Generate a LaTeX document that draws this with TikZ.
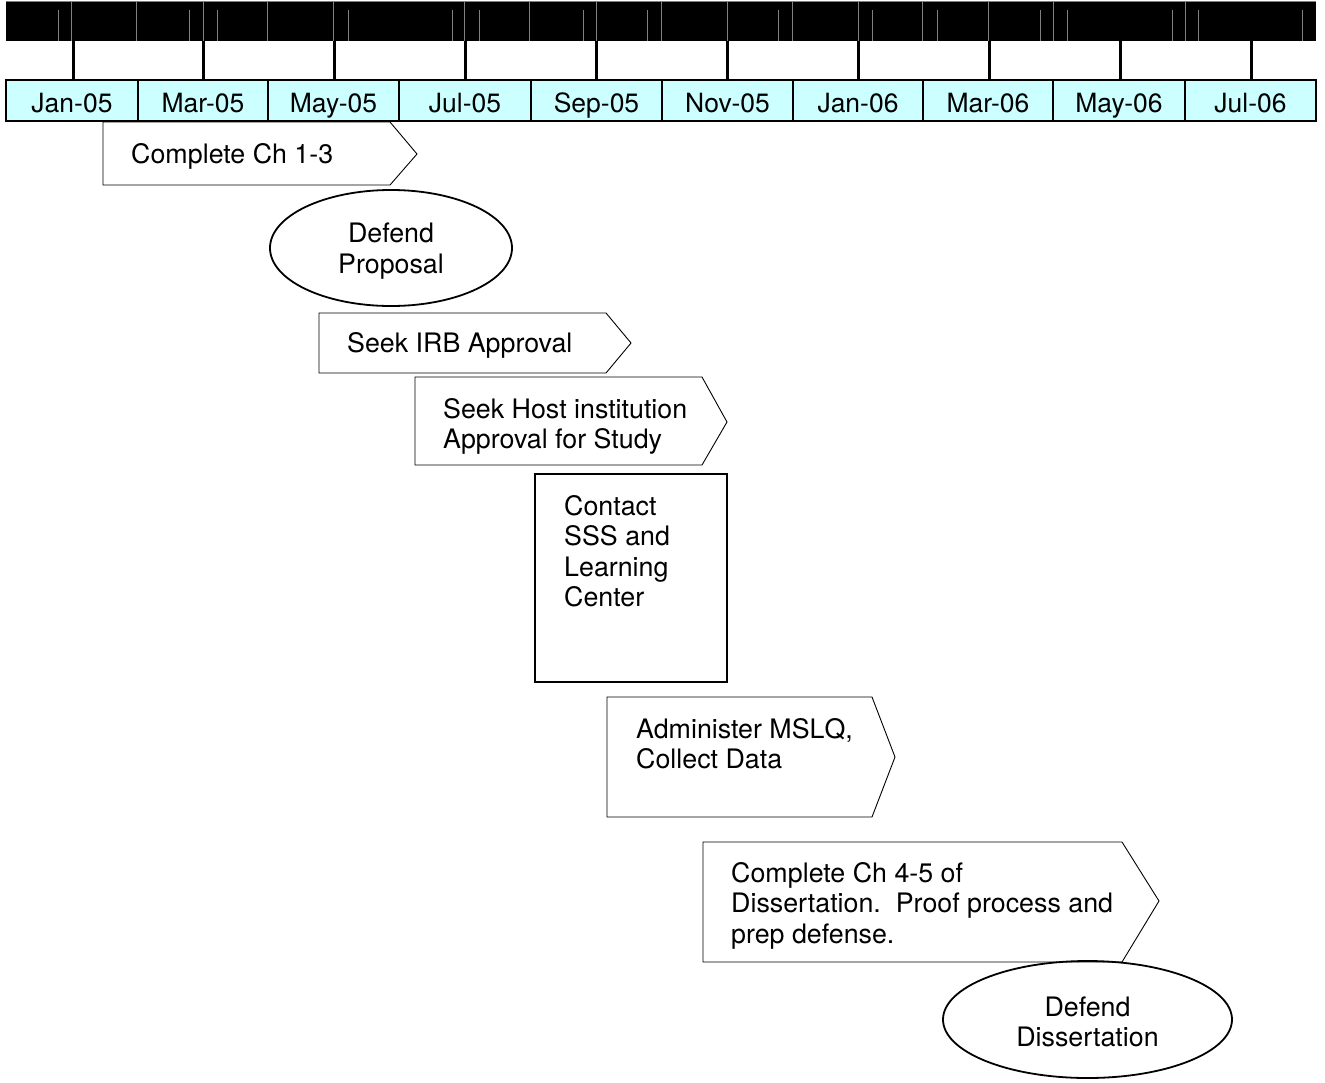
\documentclass[tikz,border=0pt]{standalone}
\usepackage{fontspec}
\setmainfont{TeX Gyre Heros}
\usetikzlibrary{shapes.geometric}
\definecolor{monthfill}{HTML}{CCFFFF}
\tikzset{
  x=1pt, y=-1pt,
  lbl/.style={inner sep=0pt, font=\fontsize{26.8}{30.5}\selectfont, align=left},
  month/.style={inner sep=0pt, font=\fontsize{26.5}{30.5}\selectfont},
  arrowbox/.style={draw=black, line width=0.9pt, fill=white, line join=miter},
  oval/.style={draw=black, line width=1.8pt, ellipse, inner sep=0pt},
  ovaltext/.style={inner sep=0pt, align=center, font=\fontsize{26.8}{30.5}\selectfont},
  tick/.style={line width=3pt, black},
  grid/.style={line width=0.6pt, black!50},
}
\begin{document}
\begin{tikzpicture}
\useasboundingbox (0,0) rectangle (1325,1082);
\fill[white] (0,0) rectangle (1325,1082);
% top black bar
\fill[black] (6,1) rectangle (1316,41);
\draw[grid] (6,1) -- (1316,1);
\foreach \gx in {71,136,203,267,333,464,529,596,661,727,792,858,922,988,1053,1185}
  \draw[grid] (\gx,1) -- (\gx,41);
\foreach \gx in {58,189,217,348,452,479,583,647,778,872,937,1040,1067,1172,1198,1302}
  \draw[grid] (\gx,10) -- (\gx,41);
% ticks
\foreach \tx in {73,203,334,465,596,727,858,989,1120,1251}
  \draw[tick] (\tx,41) -- (\tx,81);
% month boxes
\fill[monthfill] (6,80) rectangle (1316,121);
\foreach \a/\b/\m [count=\i] in {6/138/Jan-05,138/268/Mar-05,268/399/May-05,399/531/Jul-05,531/662/Sep-05,662/793/Nov-05,793/923/Jan-06,923/1053/Mar-06,1053/1185/May-06,1185/1316/Jul-06}{
  \draw[line width=2.5pt] (\a,80) rectangle (\b,121);
  \node[month, anchor=base] (m\i) at ({(\a+\b)/2},112) {\m};
}
% Complete Ch 1-3
\draw[arrowbox] (103,122) -- (390,122) -- (417,154) -- (390,185) -- (103,185) -- cycle;
\node[lbl, anchor=base west] (ch13) at (131,163) {Complete Ch 1-3};
% Defend Proposal
\node[oval, minimum width=242pt, minimum height=116pt] (defprop) at (391,248) {};
\node[ovaltext] (defproptxt) at (391,251) {Defend\\Proposal};
% Seek IRB
\draw[arrowbox] (319,313) -- (606,313) -- (631,343) -- (606,373) -- (319,373) -- cycle;
\node[lbl, anchor=base west] (irb) at (347,352) {Seek IRB Approval};
% Host
\draw[arrowbox] (415,377) -- (702,377) -- (727,422) -- (702,465) -- (415,465) -- cycle;
\node[lbl, anchor=north west] (host) at (443,398) {Seek Host institution\\Approval for Study};
% Contact
\draw[line width=2.2pt] (535,474) rectangle (727,682);
\node[lbl, anchor=north west] (contact) at (564,495) {Contact\\SSS and\\Learning\\Center};
% Administer
\draw[arrowbox] (607,697) -- (872,697) -- (895,757) -- (872,817) -- (607,817) -- cycle;
\node[lbl, anchor=north west] (admin) at (636,718) {Administer MSLQ,\\Collect Data};
% Complete Ch 4-5
\draw[arrowbox] (703,842) -- (1122,842) -- (1159,901) -- (1122,962) -- (703,962) -- cycle;
\node[lbl, anchor=north west] (ch45) at (731,862) {Complete Ch 4-5 of\\Dissertation.\ \ Proof process and\\prep defense.};
% Defend Dissertation
\node[oval, minimum width=289pt, minimum height=117pt] (defdiss) at (1087.5,1019.5) {};
\node[ovaltext] (defdisstxt) at (1087.5,1022) {Defend\\Dissertation};
\end{tikzpicture}
\end{document}
